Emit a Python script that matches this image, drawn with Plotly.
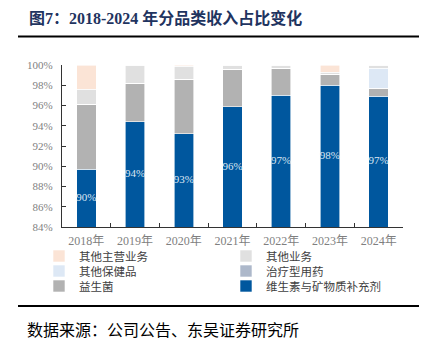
import plotly.graph_objects as go

years = ["2018年", "2019年", "2020年", "2021年", "2022年", "2023年", "2024年"]
vitamin = [89.7, 94.4, 93.2, 95.9, 97.0, 98.0, 96.9]
probiotic = [6.4, 3.8, 5.4, 3.7, 2.7, 1.1, 0.8]
therapeutic = [0.0, 0.0, 0.0, 0.0, 0.0, 0.0, 0.0]
other_health = [0.0, 0.0, 0.0, 0.0, 0.0, 0.0, 2.0]
other_biz = [1.5, 1.8, 1.3, 0.4, 0.3, 0.2, 0.3]
other_main = [2.4, 0.0, 0.1, 0.0, 0.0, 0.7, 0.0]
y_min, y_max = 84, 100

W, H = 428, 347
L, R, T, B = 62, 403, 65, 227

def px(x):
    return (x - L) / (R - L)

def py(y):
    return (B - y) / (B - T)

serif = "Liberation Serif, Noto Sans CJK SC"
cjk = "Noto Sans CJK SC"

# (name, values, colour, legend id)
series = [
    ("维生素与矿物质补充剂", vitamin, "#00579e", "legend3"),
    ("益生菌", probiotic, "#b2b2b2", "legend3"),
    ("治疗型用药", therapeutic, "#adb8ca", "legend2"),
    ("其他保健品", other_health, "#dde8f5", "legend2"),
    ("其他业务", other_biz, "#e0e0e0", "legend"),
    ("其他主营业务", other_main, "#fbe4d6", "legend"),
]

fig = go.Figure()
for name, vals, col, lg in series:
    fig.add_trace(go.Bar(x=years, y=vals, name=name, legend=lg,
                         marker=dict(color=col, line=dict(color="white", width=0.6)), width=0.4))

# value labels centred in the visible part of the blue bars
fig.add_trace(go.Scatter(x=years, y=[(y_min + v) / 2 for v in vitamin], mode="text",
                         text=[f"{v:.0f}%" for v in vitamin], showlegend=False, hoverinfo="skip",
                         textfont=dict(family=serif, size=11, color="#dce6f2")))

def legend_row(ypix):
    return dict(orientation="h", traceorder="reversed", x=px(39), xanchor="left", y=py(ypix),
                yanchor="middle", entrywidth=142, entrywidthmode="pixels",
                font=dict(family=cjk, size=11.5, color="#404040"), itemwidth=30,
                bgcolor="rgba(0,0,0,0)", tracegroupgap=0)

fig.update_layout(
    barmode="stack",
    width=W, height=H,
    margin=dict(l=L, r=W - R, t=T, b=H - B, pad=0),
    paper_bgcolor="white", plot_bgcolor="white",
    showlegend=True,
    legend=legend_row(256),
    legend2=legend_row(271),
    legend3=legend_row(286),
    xaxis=dict(showline=True, linecolor="#333333", linewidth=1.2, ticks="inside", tickson="boundaries",
               ticklen=4, tickcolor="#333333", tickfont=dict(family=serif, size=12, color="#7f7f7f"),
               showgrid=False, ticklabelstandoff=2),
    yaxis=dict(range=[y_min, y_max], dtick=2, tick0=84, ticksuffix="%", showline=True, linecolor="#333333",
               linewidth=1.2, ticks="inside", ticklen=4, tickcolor="#333333", showgrid=False, zeroline=False,
               tickfont=dict(family=serif, size=11, color="#7f7f7f"), ticklabelstandoff=6),
    annotations=[
        dict(text="<b>图7：2018-2024 年分品类收入占比变化</b>", xref="paper", yref="paper", x=px(27), y=py(18),
             xanchor="left", yanchor="middle", showarrow=False,
             font=dict(family=serif, size=16, color="#1f3460")),
        dict(text="数据来源：公司公告、东吴证券研究所", xref="paper", yref="paper", x=px(25), y=py(329),
             xanchor="left", yanchor="middle", showarrow=False,
             font=dict(family=cjk, size=16, color="#000000")),
    ],
    shapes=[
        dict(type="line", xref="paper", yref="paper", x0=px(18), x1=px(419), y0=py(36.5), y1=py(36.5),
             line=dict(color="#000000", width=2)),
        dict(type="line", xref="paper", yref="paper", x0=px(18), x1=px(419), y0=py(306), y1=py(306),
             line=dict(color="#000000", width=2)),
    ],
)

fig.write_html("out.html")
